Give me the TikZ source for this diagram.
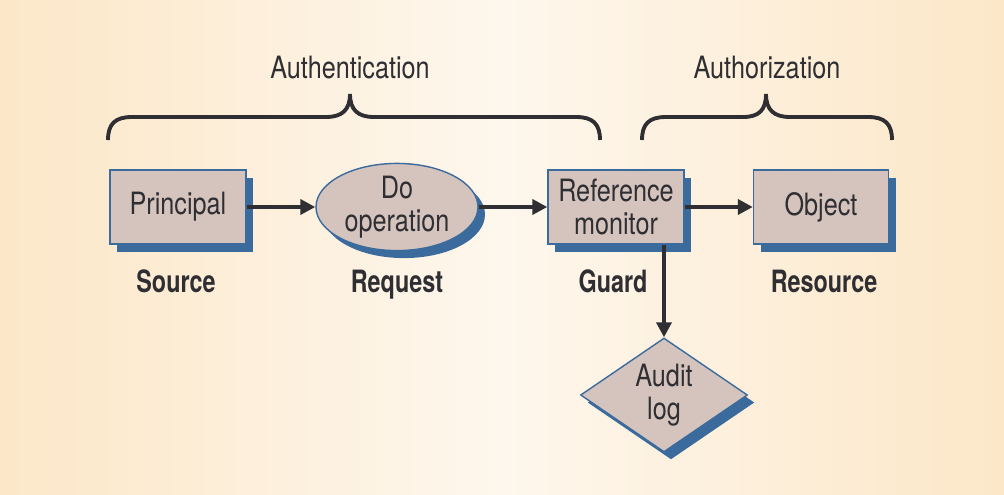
\documentclass[tikz,border=0pt]{standalone}
\usepackage{fontspec}
\setmainfont{TeX Gyre Heros}[FakeStretch=0.82]
\newfontfamily\captfont{TeX Gyre Heros}[FakeStretch=0.76]
\usetikzlibrary{shapes.geometric,shadows,arrows.meta}
\definecolor{bgedge}{RGB}{252,231,200}
\definecolor{bgmid}{RGB}{254,247,237}
\definecolor{boxfill}{RGB}{212,196,189}
\definecolor{boxblue}{RGB}{59,107,157}
\definecolor{inkgray}{RGB}{46,46,51}

\begin{document}
\begin{tikzpicture}[x=0.2mm,y=-0.2mm,
	box/.style={draw=boxblue,line width=0.8pt,fill=boxfill,text=inkgray,inner sep=0pt,align=center,
		font=\fontsize{17.5}{18.5}\selectfont,
		drop shadow={shadow xshift=1.4mm,shadow yshift=-1.5mm,fill=boxblue,opacity=1}},
	caption/.style={text=inkgray,anchor=base,font=\captfont\bfseries\fontsize{17.5}{18.5}\selectfont},
	heading/.style={text=inkgray,anchor=base,font=\fontsize{17.5}{19}\selectfont},
	arr/.style={draw=inkgray,line width=2.2pt,-{Triangle[length=3mm,width=3mm]}},
	brace/.style={draw=inkgray,line width=2.2pt}]
	\shade[left color=bgedge,right color=bgedge,middle color=bgmid] (0,0) rectangle (1004,494);
	\useasboundingbox (0,0) rectangle (1004,494);

	\coordinate (p) at (178,207);
	\coordinate (r) at (397,207);
	\coordinate (m) at (616,207);
	\coordinate (o) at (821,207);
	\coordinate (a) at (664,395);

	\node[box,rectangle,minimum width=27.2mm,minimum height=14.8mm] (principal) at (p) {Principal};
	\node[box,ellipse,minimum width=32.4mm,minimum height=17mm] (request) at (r) {Do\\operation};
	\node[box,rectangle,minimum width=27.2mm,minimum height=14.8mm] (monitor) at (m) {Reference\\monitor};
	\node[box,rectangle,minimum width=27mm,minimum height=14.8mm] (object) at (o) {Object};
	\node[box,diamond,aspect=1.46,minimum width=33.4mm,minimum height=22.8mm] (audit) at (a) {Audit\\log};

	\node[caption] (source) at (176,292) {Source};
	\node[caption] (req) at (397,292) {Request};
	\node[caption] (guard) at (613,292) {Guard};
	\node[caption] (resource) at (824,292) {Resource};

	\node[heading] (authn) at (350,78) {Authentication};
	\node[heading] (authz) at (767,78) {Authorization};

	% arrows between the parts
	\draw[arr] (principal) -- (request);
	\draw[arr] (request) -- (monitor);
	\draw[arr] (monitor) -- (object);
	\draw[arr] (monitor.south -| audit.north) -- (audit.north);

	% braces
	\draw[brace] (108,140) .. controls (108,124) and (115,117) .. (132,117) -- (326,117)
		.. controls (342,117) and (350,110) .. (350,94)
		.. controls (350,110) and (358,117) .. (374,117) -- (576,117)
		.. controls (593,117) and (600,124) .. (600,140);
	\draw[brace] (642,140) .. controls (642,124) and (649,117) .. (666,117) -- (743,117)
		.. controls (759,117) and (766,110) .. (766,94)
		.. controls (766,110) and (774,117) .. (790,117) -- (868,117)
		.. controls (885,117) and (892,124) .. (892,140);
\end{tikzpicture}
\end{document}
